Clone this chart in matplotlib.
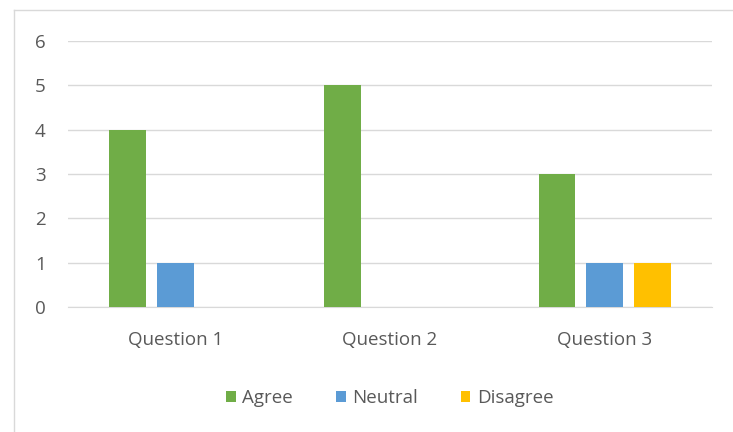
import numpy as np
import matplotlib
matplotlib.use("Agg")
import matplotlib.pyplot as plt
from matplotlib.lines import Line2D

questions = ["Question 1", "Question 2", "Question 3"]
series = ["Agree", "Neutral", "Disagree"]
agree = [4, 5, 3]
neutral = [1, 0, 1]
disagree = [0, 0, 1]
colors = ["#70AD47", "#5B9BD5", "#FFC000"]

plt.rcParams['font.family'] = ['Open Sans', 'DejaVu Sans']

fig = plt.figure(figsize=(7.33, 4.32), dpi=100)
ax = fig.add_axes([68 / 733, 1 - 307 / 432, (712 - 68) / 733, (307 - 41) / 432])

x = np.arange(len(questions))
width = 0.172
step = 0.222
for i, (name, vals) in enumerate(zip(series, [agree, neutral, disagree])):
    ax.bar(x + (i - 1) * step, vals, width, color=colors[i], label=name, zorder=3)

ax.set_xlim(-0.5, 2.5)
ax.set_ylim(0, 6)
ax.set_yticks(range(7))
ax.set_xticks(x)
ax.set_xticklabels(questions)
ax.grid(axis='y', color='#D9D9D9', linewidth=1, zorder=0)
for s in ax.spines.values():
    s.set_visible(False)
ax.spines['bottom'].set_visible(True)
ax.spines['bottom'].set_color('#D9D9D9')
ax.tick_params(length=0, colors='#595959', labelsize=13.5)
ax.tick_params(axis='y', pad=16)
ax.tick_params(axis='x', pad=17)

ax.legend(loc='upper center', bbox_to_anchor=(0.5, -0.245), ncol=3, frameon=False,
          fontsize=13.5, handlelength=0.5, handleheight=0.5, handletextpad=0.35,
          columnspacing=2.3, labelcolor='#595959')

# chart area border (top and left visible)
fig.add_artist(Line2D([14 / 733, 1], [1 - 10 / 432] * 2, color='#D9D9D9', lw=1))
fig.add_artist(Line2D([14 / 733] * 2, [0, 1 - 10 / 432], color='#D9D9D9', lw=1))

fig.savefig("out.png", dpi=100)
